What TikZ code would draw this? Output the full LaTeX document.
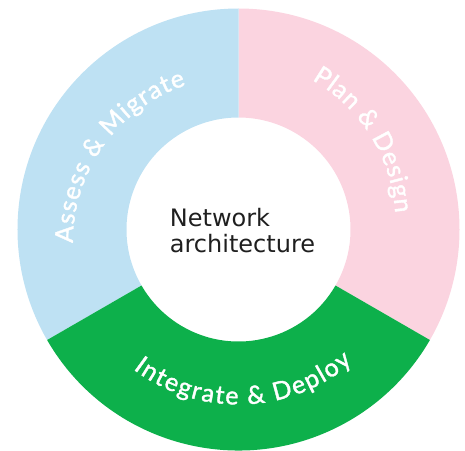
\documentclass[tikz,border=0pt]{standalone}
\usepackage{fontspec}
\setmainfont{DejaVu Sans}
\newfontfamily\ringfamily{Lato}[FakeBold=1.5]
\usetikzlibrary{decorations.text}

\definecolor{planpink}{RGB}{251,212,224}
\definecolor{assessblue}{RGB}{190,225,243}
\definecolor{deploygreen}{RGB}{13,176,75}
\newcommand{\ringfont}{\ringfamily\fontsize{25}{25}\selectfont}

\begin{document}
\begin{tikzpicture}[x=1pt, y=1pt,
    ringlabel/.style={decorate, decoration={text along path, text color=white,
        text align={fit to path}, text={#1}}}]
            \useasboundingbox (-238.5,-220.5) rectangle (226.5,229.5);

            % ring sectors
            \fill[planpink] (90:112) -- (90:221) arc[start angle=90, end angle=-30, radius=221]
                -- (-30:112) arc[start angle=-30, end angle=90, radius=112] -- cycle;
            \fill[assessblue] (90:112) -- (90:221) arc[start angle=90, end angle=210, radius=221]
                -- (210:112) arc[start angle=210, end angle=90, radius=112] -- cycle;
            \fill[deploygreen] (210:112) -- (210:221) arc[start angle=210, end angle=330, radius=221]
                -- (330:112) arc[start angle=330, end angle=210, radius=112] -- cycle;

            \node[align=left, inner sep=0pt, text=black!88, font=\fontsize{24}{26}\selectfont] (hub) at (4, -1) {Network\\architecture};

            % labels along the ring
            \path[ringlabel={|\ringfont|Plan {\&} Design}] (73.5,149.5) arc[start angle=60.4, end angle=3.6, radius=165];
            \path[ringlabel={|\ringfont|Assess {\&} Migrate}] (-165.5,-13.5) arc[start angle=180.45, end angle=108.35, radius=165];
            \path[ringlabel={|\ringfont|Integrate {\&} Deploy}] (233:175) arc[start angle=233, end angle=310.6, radius=175];
    	\end{tikzpicture}
\end{document}
